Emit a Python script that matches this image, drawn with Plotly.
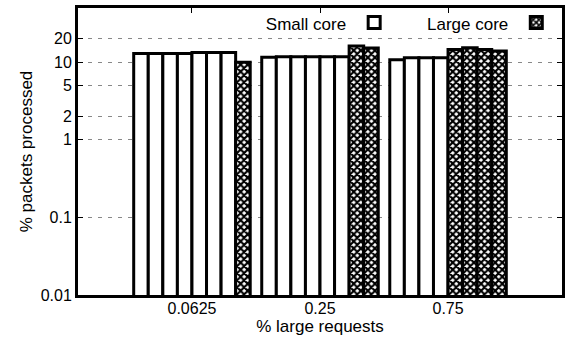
import plotly.graph_objects as go

groups = ["0.0625", "0.25", "0.75"]
# values per bar slot (8 slots per group)
g_0625 = [13.0, 13.0, 13.0, 13.0, 13.3, 13.3, 13.3, 10.0]
g_025 = [11.6, 11.8, 11.8, 11.8, 11.8, 11.8, 16.2, 15.3]
g_075 = [10.8, 11.4, 11.4, 11.4, 14.6, 15.4, 14.6, 14.0]
small_counts = [7, 6, 4]  # number of "Small core" bars in each group
yticks = [0.01, 0.1, 1, 2, 5, 10, 20]
ytick_text = ["0.01", "0.1", "1", "2", "5", "10", "20"]

FONT = "Liberation Sans, Arial, sans-serif"
fig = go.Figure()
xs = list(range(len(groups)))
series = [g_0625, g_025, g_075]
for k in range(8):
    vals = [series[g][k] for g in range(3)]
    shapes = ["" if k < small_counts[g] else "x" for g in range(3)]
    show = k in (0, 7)
    fig.add_trace(go.Bar(
        x=xs, y=vals, name=" ", showlegend=show,
        legend="legend" if k == 0 else "legend2",
        marker=dict(color="white", line=dict(color="black", width=3),
                    pattern=dict(shape=shapes, fgcolor="black", bgcolor="white",
                                 size=5, solidity=0.65, fillmode="replace")),
    ))

axis_common = dict(showline=True, linecolor="black", linewidth=3, mirror="allticks",
                   ticks="inside", ticklen=5, tickcolor="black", automargin=False,
                   tickfont=dict(size=16, color="black", family=FONT), zeroline=False)

fig.update_layout(
    width=567, height=337,
    margin=dict(l=78, r=5, t=8, b=42),
    paper_bgcolor="white", plot_bgcolor="white",
    barmode="group", bargap=0.09, bargroupgap=0,
    font=dict(family=FONT, color="black", size=16),
    xaxis=dict(axis_common, tickvals=xs, ticktext=groups, range=[-0.89, 2.89],
               showgrid=False, ticklabelstandoff=-3,
               title=dict(text="% large requests", font=dict(size=17), standoff=3)),
    yaxis=dict(axis_common, type="log", range=[-2, 1.699], tickvals=yticks,
               ticktext=ytick_text, showgrid=True, gridcolor="#888",
               griddash="4px,6px", gridwidth=1,
               title=dict(text="% packets processed", font=dict(size=17), standoff=4)),
    legend=dict(x=0.665, y=1.0, xanchor="right", yanchor="top", bgcolor="rgba(0,0,0,0)",
                title=dict(text="Small core", side="left", font=dict(size=17)),
                itemwidth=30, font=dict(size=2)),
    legend2=dict(x=1.0, y=1.0, xanchor="right", yanchor="top", bgcolor="rgba(0,0,0,0)",
                 title=dict(text="Large core", side="left", font=dict(size=17)),
                 itemwidth=30, font=dict(size=2)),
)

fig.write_html("out.html", config={"displayModeBar": False},
               post_script="document.body.style.margin='0';")
